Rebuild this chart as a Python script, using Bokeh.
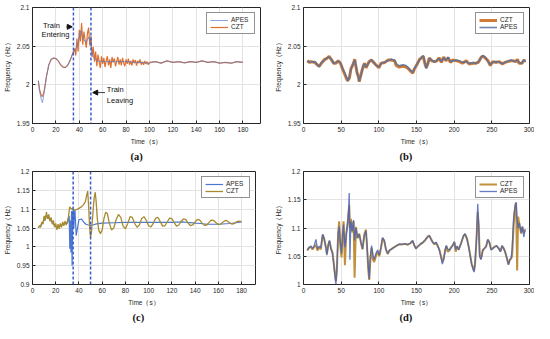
from bokeh.plotting import figure
from bokeh.layouts import column, row
from bokeh.models import (FixedTicker, Span, Legend, LegendItem, Title, Label,
                          Arrow, NormalHead, Range1d)
from bokeh.embed import file_html
from bokeh.resources import INLINE

# ---------------- data ----------------
event_times = [35, 50]

x_ticks_180 = [0, 20, 40, 60, 80, 100, 120, 140, 160, 180]
x_ticks_300 = [0, 50, 100, 150, 200, 250, 300]
y_ticks_ab = [1.95, 2.0, 2.05, 2.1]
y_labels_ab = ["1.95", "2", "2.05", "2.1"]
y_ticks_c = [0.9, 0.95, 1.0, 1.05, 1.1, 1.15, 1.2]
y_labels_c = ["0.9", "0.95", "1", "1.05", "1.1", "1.15", "1.2"]
y_ticks_d = [1.0, 1.05, 1.1, 1.15, 1.2]
y_labels_d = ["1", "1.05", "1.1", "1.15", "1.2"]

# (a)
a_apes_t = [5, 6, 7.5, 8.5, 10, 12, 14, 16, 18, 20,
            22, 24, 26, 28, 30, 32, 34, 35, 36, 38,
            40, 41, 42, 44, 46, 48, 50, 52, 55, 60,
            70, 80, 90, 100, 105, 110, 115, 120, 125, 130,
            135, 140, 145, 150, 155, 160, 165, 170, 175, 180]
a_apes = [2.006, 1.992, 1.981, 1.977, 1.990, 2.011, 2.026, 2.033, 2.0345, 2.034,
          2.031, 2.026, 2.023, 2.0225, 2.025, 2.031, 2.039, 2.042, 2.043, 2.050,
          2.062, 2.070, 2.065, 2.058, 2.055, 2.062, 2.050, 2.036, 2.031, 2.030,
          2.030, 2.030, 2.029, 2.028, 2.030, 2.028, 2.031, 2.029, 2.030, 2.0285,
          2.030, 2.029, 2.031, 2.029, 2.030, 2.028, 2.029, 2.028, 2.030, 2.029]
a_czt_t = ([5, 6, 7.5, 8.5, 10, 12, 14, 16, 18, 20, 22, 24, 26, 28, 30, 32, 34, 35]
           + list(range(36, 101))
           + [105, 110, 115, 120, 125, 130, 135, 140, 145, 150, 155, 160, 165, 170, 175, 180])
a_czt = [2.005, 1.994, 1.986, 1.985, 1.992, 2.0115, 2.026, 2.033, 2.0345, 2.034,
         2.031, 2.026, 2.023, 2.0225, 2.025, 2.031, 2.039, 2.043,
         2.047, 2.038, 2.060, 2.043, 2.071, 2.056, 2.080, 2.052, 2.069, 2.058,
         2.048, 2.067, 2.074, 2.051, 2.063, 2.036, 2.049, 2.030, 2.043, 2.024,
         2.039, 2.030, 2.022, 2.037, 2.027, 2.035, 2.023, 2.031, 2.037, 2.025,
         2.033, 2.022, 2.036, 2.029, 2.034, 2.024, 2.030, 2.036, 2.026, 2.033,
         2.025, 2.035, 2.028, 2.024, 2.033, 2.027, 2.034, 2.026, 2.031, 2.025,
         2.033, 2.028, 2.032, 2.025, 2.031, 2.028, 2.033, 2.026, 2.030, 2.026,
         2.031, 2.027, 2.030, 2.026, 2.029,
         2.030, 2.028, 2.031, 2.029, 2.030, 2.0285, 2.030, 2.029, 2.031, 2.029,
         2.030, 2.028, 2.029, 2.028, 2.030, 2.029]

# (b)
b_t = [5, 8, 10, 15, 19, 21, 23, 28, 31, 34,
       38, 40, 43, 46, 49, 52, 55, 58, 59, 61,
       63, 66, 68, 69, 71, 73, 74, 77, 79, 81,
       83, 87, 90, 93, 96, 100, 103, 108, 112, 116,
       121, 123, 127, 132, 136, 139, 143, 145, 147, 151,
       154, 157, 159, 161, 163, 165, 167, 170, 174, 177,
       180, 183, 186, 189, 192, 195, 198, 203, 207, 211,
       216, 220, 225, 229, 232, 236, 238, 241, 245, 248,
       251, 256, 260, 264, 267, 271, 275, 279, 282, 284,
       286, 290, 292, 295]
b_apes = [2.0305, 2.030, 2.029, 2.030, 2.026, 2.023, 2.028, 2.032, 2.035, 2.036,
          2.032, 2.0275, 2.029, 2.0305, 2.029, 2.021, 2.015, 2.0075, 2.005, 2.0105,
          2.020, 2.0275, 2.032, 2.028, 2.017, 2.009, 2.005, 2.015, 2.0245, 2.0275,
          2.023, 2.029, 2.0325, 2.0295, 2.0255, 2.023, 2.0275, 2.0295, 2.031, 2.033,
          2.032, 2.0275, 2.0245, 2.026, 2.025, 2.022, 2.018, 2.016, 2.021, 2.0275,
          2.032, 2.036, 2.038, 2.029, 2.021, 2.0275, 2.034, 2.0325, 2.029, 2.032,
          2.034, 2.030, 2.035, 2.032, 2.036, 2.030, 2.031, 2.032, 2.031, 2.029,
          2.030, 2.0275, 2.029, 2.0275, 2.030, 2.035, 2.038, 2.036, 2.030, 2.026,
          2.029, 2.030, 2.029, 2.0275, 2.0285, 2.0305, 2.032, 2.030, 2.031, 2.032,
          2.029, 2.0275, 2.0325, 2.030]
b_czt = [2.031, 2.029, 2.030, 2.029, 2.025, 2.024, 2.027, 2.033, 2.034, 2.037,
         2.031, 2.028, 2.028, 2.031, 2.028, 2.020, 2.013, 2.006, 2.006, 2.009,
         2.021, 2.027, 2.033, 2.027, 2.016, 2.010, 2.004, 2.016, 2.023, 2.028,
         2.022, 2.030, 2.032, 2.029, 2.026, 2.022, 2.028, 2.029, 2.032, 2.032,
         2.031, 2.025, 2.023, 2.024, 2.023, 2.021, 2.017, 2.015, 2.020, 2.027,
         2.033, 2.035, 2.037, 2.028, 2.022, 2.027, 2.035, 2.031, 2.030, 2.031,
         2.035, 2.029, 2.036, 2.031, 2.035, 2.029, 2.032, 2.031, 2.030, 2.028,
         2.031, 2.027, 2.028, 2.028, 2.029, 2.036, 2.037, 2.035, 2.031, 2.025,
         2.030, 2.029, 2.030, 2.027, 2.029, 2.030, 2.031, 2.031, 2.030, 2.033,
         2.028, 2.028, 2.031, 2.031]

# (c)
c_apes_t = [5, 7, 9, 11, 12, 13, 15, 17, 19, 21,
            23, 25, 27, 29, 30, 31, 31.6, 32.1, 32.6, 33.1,
            33.6, 34.1, 34.6, 35.1, 35.6, 36.1, 36.6, 37.1, 37.6, 38.5,
            40, 42, 44, 46, 48, 50, 52, 55, 60, 70,
            80, 90, 100, 110, 120, 130, 140, 145, 150, 160,
            170, 175, 180]
c_apes = [1.052, 1.056, 1.065, 1.076, 1.084, 1.079, 1.072, 1.066, 1.057, 1.052,
          1.055, 1.058, 1.061, 1.063, 1.062, 1.075, 1.082, 0.995, 1.070, 0.985,
          1.095, 0.950, 1.088, 1.102, 1.050, 1.092, 1.098, 1.062, 1.030, 1.046,
          1.072, 1.074, 1.066, 1.060, 1.058, 1.057, 1.058, 1.061, 1.063, 1.064,
          1.065, 1.065, 1.065, 1.065, 1.065, 1.066, 1.063, 1.062, 1.060, 1.060,
          1.062, 1.064, 1.066]
c_czt_t = (list(range(5, 32))
           + [32, 33, 34, 35, 36, 38, 40, 42, 44, 45.5,
              46.5, 47.5, 48.3, 49.2, 50, 50.8, 51.8, 53, 54, 54.8,
              55.8, 57, 58.5, 60, 61.5, 63, 64.5, 66]
           + list(range(68, 181, 2)))
c_czt = [1.050, 1.056, 1.052, 1.066, 1.060, 1.082, 1.070, 1.092, 1.074, 1.086,
         1.068, 1.078, 1.060, 1.070, 1.052, 1.062, 1.045, 1.060, 1.048, 1.062,
         1.052, 1.066, 1.056, 1.068, 1.058, 1.068, 1.080,
         1.106, 1.102, 1.100, 1.099, 1.098, 1.099, 1.102, 1.106, 1.112, 1.120,
         1.135, 1.148, 1.110, 1.050, 1.025, 1.040, 1.080, 1.128, 1.145, 1.120,
         1.075, 1.045, 1.035, 1.045, 1.075, 1.092, 1.088, 1.065,
         1.045, 1.050, 1.072, 1.086, 1.078, 1.055, 1.048, 1.062, 1.080, 1.078,
         1.062, 1.052, 1.058, 1.075, 1.080, 1.070, 1.056, 1.053, 1.062, 1.076,
         1.078, 1.067, 1.055, 1.056, 1.066, 1.076, 1.075, 1.064, 1.055, 1.058,
         1.068, 1.074, 1.072, 1.063, 1.056, 1.058, 1.066, 1.073, 1.071, 1.063,
         1.057, 1.058, 1.065, 1.071, 1.070, 1.064, 1.059, 1.060, 1.066, 1.070,
         1.068, 1.063, 1.060, 1.062, 1.067, 1.068, 1.067]

# (d)
d_t = [5, 7.5, 10, 12, 14, 16.5, 18.5, 21, 23, 25.5,
       27.5, 30, 31, 33, 34.5, 36.5, 38.5, 40, 41.5, 43,
       44.3, 46, 47.4, 48.7, 50.5, 51.8, 53.2, 55, 56.7, 58.5,
       59.8, 60.7, 61.6, 62.9, 64.7, 66.5, 67.8, 69.6, 71.8, 74,
       76.2, 78.4, 80.6, 82.9, 84.2, 86, 87.3, 88.6, 90.4, 92.2,
       93.9, 96.1, 98.4, 100.6, 102.8, 105, 107.2, 109.4, 111.7, 114.3,
       117, 120.5, 124, 127.6, 131.1, 134.7, 138.2, 141.8, 144.9, 147.1,
       149.3, 151.5, 155, 158.2, 161.3, 164.8, 167, 169.2, 171.5, 173.7,
       175.9, 178.1, 180.3, 182.5, 184.3, 186.1, 188, 189.6, 191.4, 193.6,
       195.8, 198, 200.3, 202, 203.8, 206, 209.1, 212.2, 214.4, 217.1,
       219.3, 221.5, 223.3, 225.1, 226.4, 227.7, 229.5, 231.3, 232.6, 233.9,
       235.7, 237.9, 240.1, 242.4, 244.6, 246.8, 249, 251.2, 253.4, 256.5,
       259.2, 261.4, 263.6, 265.8, 267.6, 270.3, 272, 273.8, 275.6, 276.9,
       278.7, 280, 281.3, 282.2, 283.6, 284.9, 286.7, 288.9, 290.6, 292.4,
       294.2]
d_apes = [1.061, 1.065, 1.068, 1.064, 1.068, 1.080, 1.063, 1.068, 1.065, 1.089,
          1.080, 1.063, 1.052, 1.072, 1.078, 1.063, 1.055, 1.038, 1.018, 1.001,
          1.027, 1.089, 1.103, 1.078, 1.055, 1.083, 1.106, 1.066, 1.086, 1.109,
          1.129, 1.162, 1.044, 1.112, 1.095, 1.114, 1.078, 1.100, 1.083, 1.089,
          1.075, 1.063, 1.086, 1.095, 1.072, 1.032, 1.010, 1.049, 1.069, 1.052,
          1.044, 1.055, 1.061, 1.052, 1.066, 1.083, 1.078, 1.063, 1.055, 1.061,
          1.063, 1.066, 1.069, 1.072, 1.071, 1.072, 1.071, 1.073, 1.078, 1.069,
          1.063, 1.067, 1.072, 1.074, 1.079, 1.085, 1.086, 1.080, 1.075, 1.072,
          1.075, 1.069, 1.061, 1.049, 1.036, 1.044, 1.061, 1.069, 1.063, 1.061,
          1.065, 1.069, 1.076, 1.062, 1.068, 1.061, 1.072, 1.086, 1.090, 1.080,
          1.066, 1.049, 1.035, 1.027, 1.022, 1.038, 1.078, 1.143, 1.100, 1.049,
          1.044, 1.061, 1.064, 1.068, 1.080, 1.075, 1.061, 1.064, 1.066, 1.069,
          1.063, 1.058, 1.069, 1.063, 1.058, 1.044, 1.035, 1.044, 1.047, 1.061,
          1.113, 1.129, 1.140, 1.146, 1.114, 1.100, 1.109, 1.092, 1.103, 1.084,
          1.098]
d_czt = [1.060, 1.066, 1.066, 1.062, 1.066, 1.070, 1.060, 1.066, 1.062, 1.088,
         1.081, 1.064, 1.054, 1.070, 1.077, 1.064, 1.056, 1.040, 1.022, 1.006,
         1.025, 1.092, 1.112, 1.070, 1.048, 1.088, 1.112, 1.034, 1.090, 1.106,
         1.128, 1.140, 1.100, 1.116, 1.092, 1.112, 1.012, 1.102, 1.082, 1.090,
         1.074, 1.062, 1.088, 1.097, 1.070, 1.025, 1.008, 1.040, 1.065, 1.044,
         1.040, 1.050, 1.058, 1.050, 1.064, 1.082, 1.077, 1.062, 1.054, 1.060,
         1.063, 1.066, 1.069, 1.071, 1.071, 1.072, 1.070, 1.073, 1.077, 1.069,
         1.064, 1.067, 1.071, 1.074, 1.078, 1.084, 1.087, 1.081, 1.075, 1.071,
         1.074, 1.068, 1.062, 1.050, 1.040, 1.046, 1.060, 1.068, 1.058, 1.060,
         1.066, 1.069, 1.075, 1.058, 1.067, 1.062, 1.073, 1.085, 1.089, 1.081,
         1.067, 1.050, 1.036, 1.030, 1.024, 1.036, 1.076, 1.128, 1.105, 1.052,
         1.046, 1.060, 1.064, 1.067, 1.079, 1.074, 1.062, 1.064, 1.067, 1.068,
         1.064, 1.059, 1.068, 1.064, 1.058, 1.045, 1.036, 1.043, 1.046, 1.050,
         1.098, 1.126, 1.142, 1.144, 1.025, 1.120, 1.105, 1.090, 1.102, 1.092,
         1.096]

# ---------------- styling ----------------
FONT = "Liberation Sans"
AX = "#262626"


def base(width, height, xr, yr, xticks, yticks, ylabels, bl, br, bt, bb, caption, cap_off):
    p = figure(width=width, height=height, x_range=Range1d(*xr), y_range=Range1d(*yr),
               output_backend="svg", toolbar_location=None,
               min_border_left=bl, min_border_right=br, min_border_top=bt, min_border_bottom=bb)
    p.background_fill_color = "white"
    p.border_fill_color = "white"
    p.outline_line_color = AX
    p.outline_line_width = 1
    p.xaxis.ticker = FixedTicker(ticks=xticks)
    p.yaxis.ticker = FixedTicker(ticks=yticks)
    p.yaxis.major_label_overrides = dict(zip(yticks, ylabels))
    for ax in (p.xaxis[0], p.yaxis[0]):
        ax.axis_line_color = None
        ax.major_tick_in = 3
        ax.major_tick_out = 0
        ax.major_tick_line_color = AX
        ax.minor_tick_line_color = None
        ax.major_label_text_font = FONT
        ax.major_label_text_font_size = "6.5px"
        ax.major_label_text_color = AX
        ax.major_label_standoff = 3
        ax.axis_label_text_font = FONT
        ax.axis_label_text_font_size = "6.5px"
        ax.axis_label_text_font_style = "normal"
        ax.axis_label_text_color = AX
        ax.axis_label_standoff = 3
    p.xaxis.axis_label = "Time（s）"
    p.yaxis.axis_label = "Frequency（Hz）"
    p.grid.grid_line_color = "#e3e3e3"
    p.add_layout(Title(text=caption, align="left", offset=cap_off,
                       text_font="Liberation Serif", text_font_size="10.5px",
                       text_font_style="bold", text_color="#111111", standoff=2), "below")
    return p


def add_legend(p, items):
    leg = Legend(items=[LegendItem(label=l, renderers=[r]) for l, r in items],
                 location="top_right")
    leg.label_text_font = FONT
    leg.label_text_font_size = "6.5px"
    leg.label_text_color = AX
    leg.glyph_width = 18
    leg.glyph_height = 6
    leg.label_height = 6
    leg.spacing = 0
    leg.padding = 3
    leg.margin = 5
    leg.label_standoff = 3
    leg.border_line_color = AX
    leg.border_line_width = 0.8
    leg.background_fill_alpha = 1
    p.add_layout(leg)


def add_events(p):
    for t in event_times:
        p.add_layout(Span(location=t, dimension="height", line_color="#3a5ccc",
                          line_dash="3 2", line_width=1.5))


# (a)
pa = base(267, 162, (0, 195), (1.95, 2.1), x_ticks_180, y_ticks_ab, y_labels_ab,
          28, 7, 6, 39, "(a)", 98)
add_events(pa)
ra_czt = pa.line(a_czt_t, a_czt, line_color="#e0702e", line_width=1.2)
ra_apes = pa.line(a_apes_t, a_apes, line_color="#5a7fd0", line_width=1, line_alpha=0.7)
add_legend(pa, [("APES", ra_apes), ("CZT", ra_czt)])
for txt, x, y in [("Train", 9, 2.0766), ("Entering", 7.6, 2.0647),
                  ("Train", 63.6, 1.9945), ("Leaving", 63.6, 1.9796)]:
    pa.add_layout(Label(x=x, y=y, text=txt, text_font=FONT, text_font_size="7.5px",
                        text_color="#111111", text_baseline="middle", text_align="left"))
pa.add_layout(Arrow(end=NormalHead(size=5, fill_color="#111111", line_color="#111111"),
                    x_start=29, y_start=2.075, x_end=34, y_end=2.075,
                    line_color="#111111", line_width=0.8))
pa.add_layout(Arrow(end=NormalHead(size=5, fill_color="#111111", line_color="#111111"),
                    x_start=62, y_start=1.990, x_end=51.5, y_end=1.990,
                    line_color="#111111", line_width=0.8))

# (b)
pb = base(267, 162, (0, 300), (1.95, 2.1), x_ticks_300, y_ticks_ab, y_labels_ab,
          36, 5, 7, 37, "(b)", 96)
rb_czt = pb.line(b_t, b_czt, line_color="#d07a36", line_width=3)
rb_apes = pb.line(b_t, b_apes, line_color="#56709e", line_width=1.6, line_alpha=0.85)
add_legend(pb, [("CZT", rb_czt), ("APES", rb_apes)])

# (c)
pc = base(267, 161, (0, 192), (0.9, 1.2), x_ticks_180, y_ticks_c, y_labels_c,
          27, 12, 9, 33, "(c)", 100)
add_events(pc)
rc_apes = pc.line(c_apes_t, c_apes, line_color="#4a78d0", line_width=1.2)
rc_czt = pc.line(c_czt_t, c_czt, line_color="#a88a2e", line_width=1.3)
add_legend(pc, [("APES", rc_apes), ("CZT", rc_czt)])

# (d)
pd_ = base(267, 161, (0, 300), (1.0, 1.2), x_ticks_300, y_ticks_d, y_labels_d,
           36, 5, 8, 35, "(d)", 96)
rd_czt = pd_.line(d_t, d_czt, line_color="#c0903a", line_width=2.0)
rd_apes = pd_.line(d_t, d_apes, line_color="#4a63b5", line_width=1.3, line_alpha=0.85)
add_legend(pd_, [("CZT", rd_czt), ("APES", rd_apes)])

layout = column(row(pa, pb), row(pc, pd_))

with open("out.html", "w") as f:
    f.write(file_html(layout, INLINE))
